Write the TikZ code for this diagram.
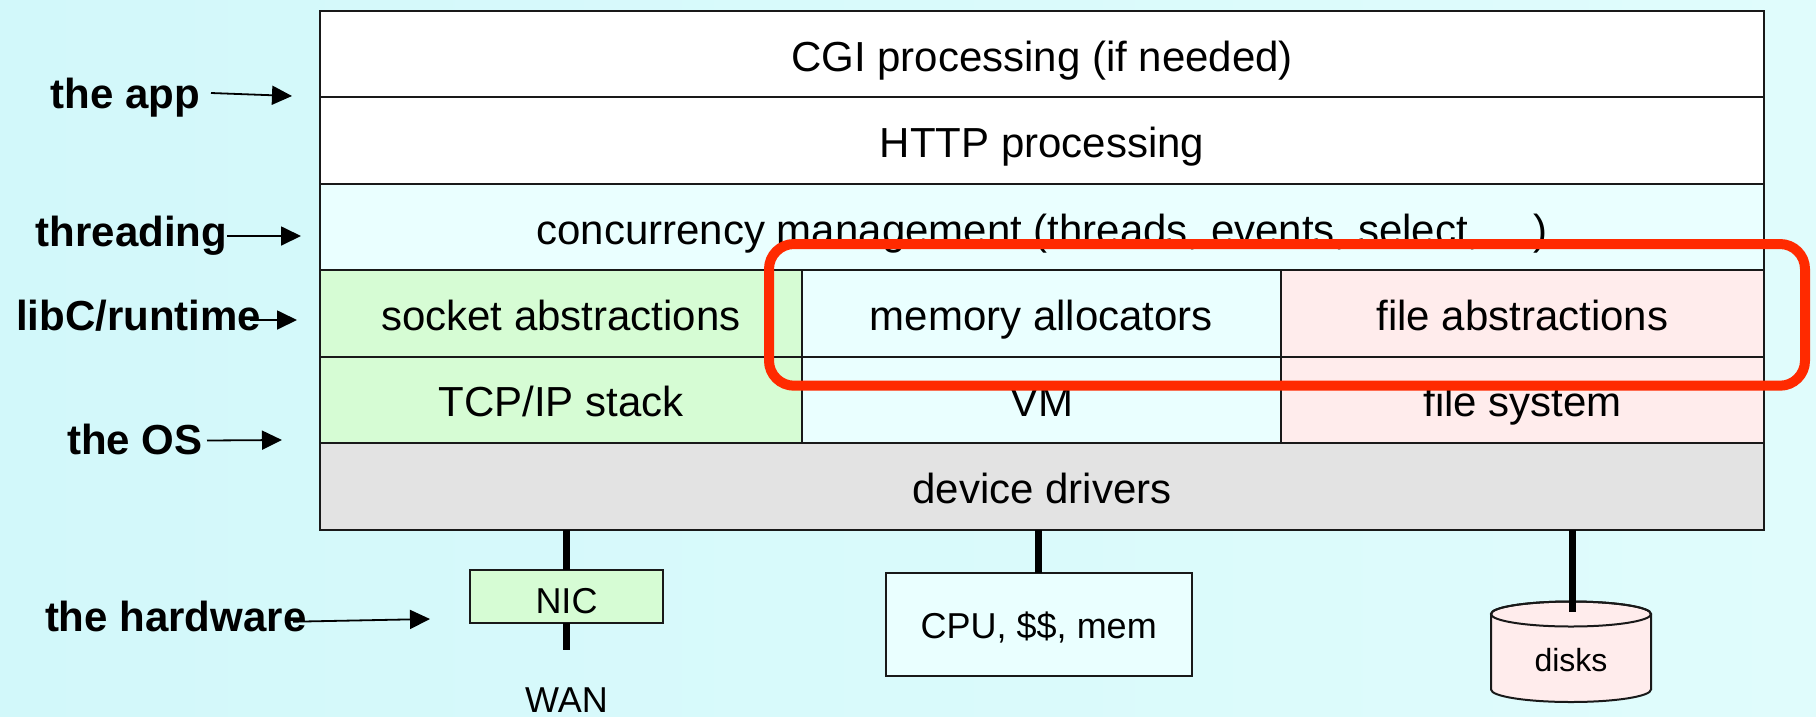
\documentclass[tikz,border=0pt]{standalone}
\usepackage{fontspec}
\setmainfont{Liberation Sans}
\usetikzlibrary{arrows.meta}
\definecolor{bgleft}{RGB}{210,248,250}
\definecolor{bgright}{RGB}{224,252,252}
\definecolor{cellcyan}{RGB}{234,255,255}
\definecolor{cellgreen}{RGB}{214,252,212}
\definecolor{cellpink}{RGB}{255,236,236}
\definecolor{cellgray}{RGB}{227,227,227}
\definecolor{hilite}{RGB}{255,42,0}
\begin{document}
\begin{tikzpicture}[x=1pt,y=-1pt,
  cell/.style={draw=black!90, line width=2pt, anchor=north west, inner sep=0pt, outer sep=0pt,
    text height=34pt, text depth=0pt, font=\fontsize{42}{50}\selectfont},
  hwbox/.style={draw=black!90, line width=2pt, anchor=north west, inner sep=0pt, outer sep=0pt,
    font=\fontsize{36}{44}\selectfont},
  lab/.style={font=\fontsize{42}{50}\selectfont\bfseries, anchor=base west, inner sep=0pt},
  arr/.style={line width=1.8pt, -{Triangle[length=20pt,width=19pt]}},
  link/.style={line width=7pt},
  hilitebox/.style={draw=hilite, line width=10pt, rounded corners=25pt}]

% background
\useasboundingbox (0,0) rectangle (1816,716);
\shade[left color=bgleft, right color=bgright] (0,0) rectangle (1816,716);

% software stack
\node[cell, fill=white, minimum width=1444pt, minimum height=86pt] (cgi) at (320,11) {CGI processing (if needed)};
\node[cell, fill=white, minimum width=1444pt, minimum height=87pt] (http) at (320,97) {HTTP processing};
\node[cell, fill=cellcyan, minimum width=1444pt, minimum height=86pt] (conc) at (320,184) {concurrency management (threads, events, select, …)};
\node[cell, fill=cellgreen, minimum width=482pt, minimum height=86.5pt] (sock) at (320,270) {socket abstractions};
\node[cell, fill=cellcyan, minimum width=479pt, minimum height=86.5pt] (mem) at (802,270) {memory allocators};
\node[cell, fill=cellpink, minimum width=483pt, minimum height=86.5pt] (fileab) at (1281,270) {file abstractions};
\node[cell, fill=cellgreen, minimum width=482pt, minimum height=86.5pt] (tcp) at (320,356.5) {TCP/IP stack};
\node[cell, fill=cellcyan, minimum width=479pt, minimum height=86.5pt] (vm) at (802,356.5) {VM};
\node[cell, fill=cellpink, minimum width=483pt, minimum height=86.5pt] (fs) at (1281,356.5) {file system};
\node[cell, fill=cellgray, minimum width=1444pt, minimum height=87pt] (dev) at (320,443) {device drivers};

% hardware
\node[hwbox, fill=cellgreen, minimum width=193pt, minimum height=53pt, text height=33.6pt, text depth=0pt] (nic) at (470,570) {NIC};
\node[hwbox, fill=cellcyan, minimum width=306.5pt, minimum height=103.5pt, text height=28pt, text depth=0pt] (cpu) at (885.5,572.5) {CPU, \$\$, mem};
\node[font=\fontsize{36}{44}\selectfont, anchor=base, inner sep=0pt] (wan) at (566.5,712) {WAN};

% disk cylinder
\path[draw=black!90, line width=2pt, fill=cellpink]
  (1491,614) -- (1491,689.5) arc[start angle=180, end angle=0, x radius=80, y radius=12.5]
  -- (1651,614) arc[start angle=0, end angle=-180, x radius=80, y radius=12.5] -- cycle;
\draw[black!90, line width=2pt] (1571,614) ellipse[x radius=80, y radius=12.5];
\node[font=\fontsize{32}{38}\selectfont, anchor=base, inner sep=0pt] (disks) at (1571,671.7) {disks};
\coordinate (disktop) at (1572,612);
\coordinate (wanend) at (566.5,650);

% hardware links
\draw[link] (dev.south -| nic.north) -- (nic.north);
\draw[link] (nic.south) -- (wanend);
\draw[link] (dev.south -| cpu.north) -- (cpu.north);
\draw[link] (dev.south -| disktop) -- (disktop);

% layer labels
\node[lab] (lapp) at (50.5,108) {the app};
\node[lab] (lthr) at (35.6,246) {threading};
\node[lab] (llib) at (16,330) {libC/runtime};
\node[lab] (los) at (67,454.3) {the OS};
\node[lab] (lhw) at (44.8,631.7) {the hardware};

\coordinate (appA) at (211,93);      \coordinate (appB) at (292,96);
\coordinate (thrA) at (227,236);     \coordinate (thrB) at (301,236);
\coordinate (libA) at (250,320);     \coordinate (libB) at (297,320);
\coordinate (osA) at (207,440.5);    \coordinate (osB) at (282,440);
\coordinate (hwA) at (293,621.7);    \coordinate (hwB) at (430,619);
\draw[arr] (appA) -- (appB);
\draw[arr] (thrA) -- (thrB);
\draw[arr] (libA) -- (libB);
\draw[arr] (osA) -- (osB);
\draw[arr] (hwA) -- (hwB);

% highlight around the runtime pieces
\draw[hilitebox] (769,244) rectangle (1805,385.7);
\end{tikzpicture}
\end{document}
